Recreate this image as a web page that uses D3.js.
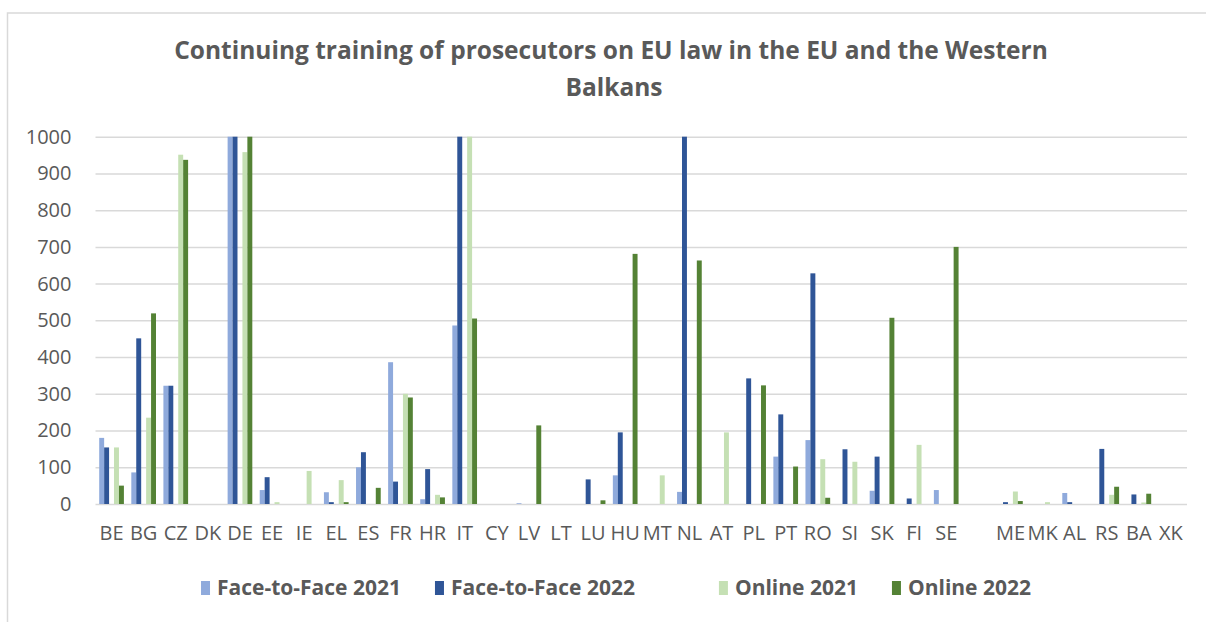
<!DOCTYPE html>
<html lang="en">

<head>
  <meta charset="UTF-8">
  <title>Continuing training of prosecutors on EU law</title>
  <style>
    body {
      margin: 0;
      background: #fff;
    }

    text {
      font-family: 'Open Sans', sans-serif;
      fill: #595959;
    }

    .grid line {
      stroke: #d9d9d9;
      stroke-width: 1.5px;
    }
  </style>
</head>

<body>
  <div id="chart"></div>

  <script src="https://cdn.jsdelivr.net/npm/d3@7/dist/d3.min.js"></script>
  <script>
    // Categories (the empty one is the spacer between the EU and the Western Balkans)
    let countries = ['BE', 'BG', 'CZ', 'DK', 'DE', 'EE', 'IE', 'EL', 'ES', 'FR', 'HR', 'IT', 'CY', 'LV', 'LT',
      'LU', 'HU', 'MT', 'NL', 'AT', 'PL', 'PT', 'RO', 'SI', 'SK', 'FI', 'SE', '', 'ME', 'MK', 'AL', 'RS', 'BA', 'XK'];

    // Series values (bars reaching the top are cut at the 1000 axis max)
    let faceToFace2021 = [180, 86, 322, 0, 1000, 38, 0, 32, 100, 386, 13, 486, 0, 2, 0,
      0, 78, 0, 33, 0, 0, 129, 174, 0, 36, 0, 38, 0, 0, 0, 30, 0, 0, 0];
    let faceToFace2022 = [154, 451, 322, 0, 1000, 73, 0, 5, 141, 61, 95, 1000, 0, 0, 0,
      67, 195, 0, 1000, 0, 342, 244, 628, 149, 129, 15, 0, 0, 5, 0, 5, 150, 26, 0];
    let blankSeries = countries.map(() => 0);
    let online2021 = [154, 235, 951, 0, 958, 5, 90, 65, 0, 300, 25, 1000, 0, 0, 0,
      0, 0, 78, 0, 195, 0, 0, 122, 115, 0, 161, 0, 0, 34, 5, 0, 25, 4, 0];
    let online2022 = [50, 519, 937, 0, 1000, 0, 0, 5, 44, 290, 18, 505, 0, 214, 0,
      10, 681, 0, 663, 0, 323, 102, 17, 0, 507, 0, 700, 0, 8, 0, 0, 47, 28, 0];

    let seriesNames = ['Face-to-Face 2021', 'Face-to-Face 2022', '', 'Online 2021', 'Online 2022'];
    let seriesValues = [faceToFace2021, faceToFace2022, blankSeries, online2021, online2022];
    let seriesColors = ['#8faadc', '#2f5597', 'none', '#c5e0b4', '#548235'];

    let yTicks = d3.range(0, 1001, 100);

    let W = 1206, H = 622;
    let plot = { left: 95.5, right: 1187, top: 136.7, bottom: 504 };

    let svg = d3.select('#chart').append('svg')
      .attr('width', W)
      .attr('height', H);

    svg.append('rect')
      .attr('width', W).attr('height', H)
      .attr('fill', '#fff');

    // Chart area border (runs off the right and bottom edges)
    svg.append('rect')
      .attr('x', 7.5).attr('y', 13)
      .attr('width', W + 20).attr('height', H + 20)
      .attr('fill', 'none')
      .attr('stroke', '#d9d9d9')
      .attr('stroke-width', 1.5);

    // Title
    let title = svg.append('text')
      .attr('text-anchor', 'middle')
      .style('font-size', '24.5px')
      .style('font-weight', 700);
    title.append('tspan').attr('x', 611).attr('y', 59)
      .text('Continuing training of prosecutors on EU law in the EU and the Western');
    title.append('tspan').attr('x', 614).attr('y', 96)
      .text('Balkans');

    // Excel style: gap width 150% -> inner padding 1.5/6.5, half of it outside
    let gap = 1.5 / 6.5;
    let xScale = d3.scaleBand()
      .domain(d3.range(countries.length))
      .range([plot.left, plot.right])
      .paddingInner(gap)
      .paddingOuter(gap / 2);

    let xSub = d3.scaleBand()
      .domain(d3.range(seriesNames.length))
      .range([0, xScale.bandwidth()]);

    let yScale = d3.scaleLinear()
      .domain([0, 1000])
      .range([plot.bottom, plot.top]);

    // Horizontal gridlines
    let yAxis = d3.axisLeft(yScale)
      .tickValues(yTicks)
      .tickSize(-(plot.right - plot.left))
      .tickPadding(24)
      .tickFormat(d3.format('d'));

    let yAxisGroup = svg.append('g')
      .attr('class', 'grid')
      .attr('transform', `translate(${plot.left}, 0)`)
      .call(yAxis);
    yAxisGroup.select('.domain').remove();
    yAxisGroup.selectAll('text')
      .style('font-size', '20px')
      .attr('fill', '#595959');

    // Bars
    let groups = svg.selectAll('.series')
      .data(seriesValues)
      .enter()
      .append('g')
      .attr('class', 'series')
      .attr('fill', (d, i) => seriesColors[i]);

    groups.selectAll('rect')
      .data((vals, si) => vals.map((v, ci) => ({ v: Math.min(v, 1000), ci: ci, si: si })))
      .enter()
      .append('rect')
      .attr('x', d => xScale(d.ci) + xSub(d.si))
      .attr('width', xSub.bandwidth())
      .attr('y', d => yScale(d.v))
      .attr('height', d => yScale(0) - yScale(d.v));

    // Category labels
    let xAxis = d3.axisBottom(xScale)
      .tickSize(0)
      .tickPadding(22)
      .tickFormat(i => countries[i]);

    let xAxisGroup = svg.append('g')
      .attr('transform', `translate(0, ${plot.bottom})`)
      .call(xAxis);
    xAxisGroup.select('.domain').remove();
    xAxisGroup.selectAll('text')
      .style('font-size', '20px')
      .attr('fill', '#595959');

    // Legend, laid out left to right then centred
    let legend = svg.append('g');
    let keyW = 9, keyH = 14, keyGap = 7, itemGap = 34;
    let cursor = 0;
    seriesNames.forEach((name, i) => {
      let item = legend.append('g').attr('transform', `translate(${cursor}, 0)`);
      if (name !== '') {
        item.append('rect')
          .attr('y', -keyH / 2)
          .attr('width', keyW)
          .attr('height', keyH)
          .attr('fill', seriesColors[i]);
      }
      let label = item.append('text')
        .attr('x', keyW + keyGap)
        .attr('dy', '0.35em')
        .style('font-size', '21px')
        .style('font-weight', 700)
        .text(name);
      cursor += keyW + keyGap + label.node().getComputedTextLength() + itemGap;
    });
    let legendWidth = cursor - itemGap;
    legend.attr('transform', `translate(${616 - legendWidth / 2}, 588)`);
  </script>
</body>

</html>
